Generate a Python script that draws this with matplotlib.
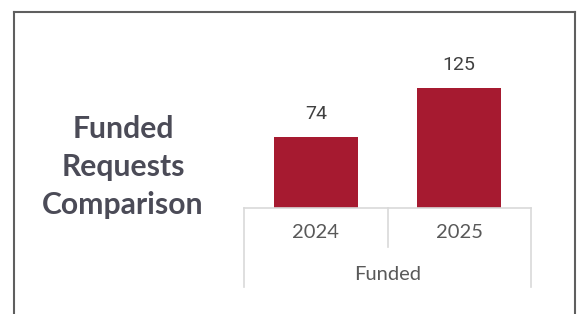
import matplotlib
matplotlib.use("Agg")
import matplotlib.pyplot as plt
from matplotlib.lines import Line2D
from matplotlib.transforms import blended_transform_factory

categories = ["2024", "2025"]
values = [74, 125]
group_label = "Funded"
title_text = "Funded\nRequests\nComparison"

W, H, DPI = 579, 314, 100
fig = plt.figure(figsize=(W / DPI, H / DPI), dpi=DPI)
fig.patch.set_facecolor("white")

# axes placement (pixels)
ax_l, ax_r, ax_b, ax_t = 244, 531, 208, 30
ax = fig.add_axes([ax_l / W, 1 - ax_b / H, (ax_r - ax_l) / W, (ax_b - ax_t) / H])
ax.set_facecolor("none")

x = list(range(len(categories)))
bars = ax.bar(x, values, width=0.585, color="#a61a30", zorder=2)
ax.set_xlim(-0.5, len(categories) - 0.5)
ax.set_ylim(0, 186)

for s in ["top", "left", "right"]:
    ax.spines[s].set_visible(False)
ax.spines["bottom"].set_color("#d9d9d9")
ax.spines["bottom"].set_linewidth(1.2)
ax.set_xticks([])
ax.set_yticks([])

# value labels
for b, v in zip(bars, values):
    ax.annotate(f"{v}", (b.get_x() + b.get_width() / 2, v), xytext=(0, 16.5),
                textcoords="offset points", ha="center", va="center",
                fontsize=14, color="#404040", family="Roboto")

# category axis decorations
tr = blended_transform_factory(ax.transData, ax.transAxes)
h = (ax_b - ax_t)
y_mid_end = -(247 - ax_b) / h
y_out_end = -(287 - ax_b) / h
lo, hi = -0.5, len(categories) - 0.5
for xv, yend in [(lo, y_out_end), (hi, y_out_end)] + [(i + 0.5, y_mid_end) for i in range(len(categories) - 1)]:
    ax.add_line(Line2D([xv, xv], [0, yend], transform=tr, color="#d9d9d9",
                       lw=1.2, clip_on=False))
for i, c in enumerate(categories):
    ax.text(i, -(232 - ax_b) / h, c, transform=tr, ha="center", va="center",
            fontsize=14.5, color="#595959", family="Lato")
ax.text((lo + hi) / 2, -(274 - ax_b) / h, group_label, transform=tr,
        ha="center", va="center", fontsize=14.5, color="#595959", family="Lato")

# title block
fig.text(123 / W, 1 - 167 / H, title_text, ha="center", va="center",
         fontsize=21.7, fontweight="bold", color="#4b4b57", family="Lato",
         linespacing=1.45)

# outer frame (top, left, right)
fc = "#5f5f5f"
fig.add_artist(Line2D([13.5 / W, 13.5 / W], [0, 1 - 12 / H], transform=fig.transFigure, color=fc, lw=1.5))
fig.add_artist(Line2D([575 / W, 575 / W], [0, 1 - 12 / H], transform=fig.transFigure, color=fc, lw=1.5))
fig.add_artist(Line2D([13.5 / W, 575 / W], [1 - 12 / H, 1 - 12 / H], transform=fig.transFigure, color=fc, lw=1.5))

fig.savefig("out.png", dpi=DPI)
